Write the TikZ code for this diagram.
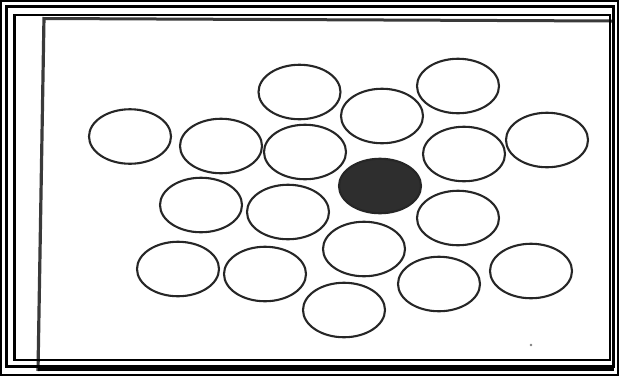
\documentclass[tikz,border=0pt]{standalone}
\usetikzlibrary{shapes.geometric}
\definecolor{inkc}{HTML}{262626}
\definecolor{fillc}{HTML}{2E2E2E}
\definecolor{scanc}{HTML}{3A3A3A}
\tikzset{
  ring/.style={ellipse, draw=inkc, line width=2.1pt, minimum width=82pt, minimum height=54.5pt, inner sep=0pt, fill=white},
  dot/.style={ring, fill=fillc},
  frameline/.style={draw=black, line width=#1},
}
\begin{document}
\begin{tikzpicture}[x=1pt,y=-1pt]
\useasboundingbox (0,0) rectangle (619,376);
\fill[white] (0,0) rectangle (619,376);
% scanned page border lines
\draw[scanc, line width=3pt] (44,18.5) -- (612,21);
\draw[scanc, line width=3.2pt] (44,17) -- (38,371);
\draw[black, line width=3pt] (38,369) -- (614,369);
% frame lines
\draw[frameline=2pt] (1,1) rectangle (618,375);
\draw[frameline=3pt] (6,6.5) rectangle (613.5,366.5);
\draw[frameline=2.2pt] (14.5,15) rectangle (610,360);
% circles
\node[ring] (c1) at (299.5,92) {};
\node[ring] (c2) at (458,86) {};
\node[ring] (c3) at (382,116) {};
\node[ring] (c4) at (130,136.5) {};
\node[ring] (c5) at (221,146) {};
\node[ring] (c6) at (305,152) {};
\node[dot]  (c7) at (380,186) {};
\node[ring] (c8) at (464,154) {};
\node[ring] (c9) at (547,140) {};
\node[ring] (c10) at (201,205) {};
\node[ring] (c11) at (288,212) {};
\node[ring] (c12) at (458,218) {};
\node[ring] (c13) at (364,249) {};
\node[ring] (c14) at (178,269) {};
\node[ring] (c15) at (265,274) {};
\node[ring] (c16) at (531,271) {};
\node[ring] (c17) at (439,284) {};
\node[ring] (c18) at (344,310) {};
% speck
\fill[gray] (531,345) circle (1.3);
\end{tikzpicture}
\end{document}
